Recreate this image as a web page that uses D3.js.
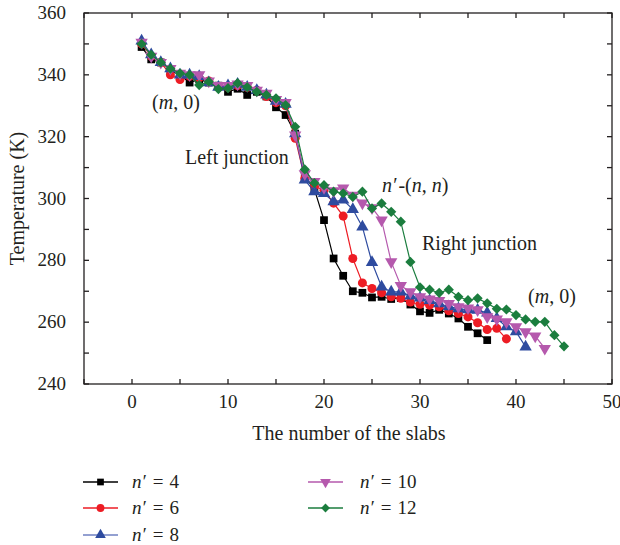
<html>
<script src='https://cdn.jsdelivr.net/npm/d3@7'></script>
<style>
body {margin:0; background:#fff;}
text {font-family: 'Liberation Serif', 'DejaVu Serif', serif; fill:#231f20;}
</style>
<body onload='init()'>
<svg width=620 height=545></svg>
<script>
// temperature per slab, slab index starts at 1
var t4  = [349,345,344,341.5,340,337.5,338.5,337.5,336.5,334.5,335.5,333.5,334.5,333,329.5,327,321,307,303,293,280.6,275,270,269.5,268,268.2,267.5,267.8,265.7,263.5,263,264,262.8,261.2,258.5,256.4,254.2];
var t6  = [350,346,344,340,338.5,339.5,339,338,336,336,336.5,336,335,333,331,330,319.5,306.5,304,302.7,298.5,294.3,280.6,272.7,270.9,269.5,268.2,267.7,266.5,265.8,265.5,265,263.7,262.8,261.7,259.8,257.6,258,254.6];
var t8  = [351,346.5,344,342,340,340,339.5,337.5,336,336.5,337,336,335,333.5,331.5,330.5,321,306,302.2,301.6,299,299.5,296.5,290.8,279.3,271.4,269.8,269.8,268.5,267.8,267,266,265,264.4,264,263.9,263,261.2,258.5,256.9,252];
var t10 = [350.5,346,344,342,340.5,340,340,338,336.5,336.5,337,336.5,335,334,332,331,320.5,308,305.5,303.5,302.5,303.4,301,298.5,297,293,279.5,271.8,269.8,268.2,267.5,267,266,265,264.6,264,261.7,261,260.1,258.5,256.9,255.5,251.5];
var t12 = [350,346.5,344,342,340.5,340,336.7,337.8,335.4,335.7,337.3,336,334.5,333.5,332.4,330.2,323.2,309.4,305,304.3,302.2,301.7,300.5,302.2,296.8,298.4,295.7,292.5,279.5,271.3,270.5,269.5,270.5,268.2,267.1,267.7,266.1,264.3,264.1,262.3,260.9,260.1,260.1,255.8,252.2];

var seriesNames = ['4','6','8','10','12'];
var seriesVals = [t4, t6, t8, t10, t12];
var colors = ['#000000','#ed1c24','#2e4b9f','#b559ad','#1b7d3e'];
var legendLine = ['#000000','#ed1c24','#6f80c2','#b559ad','#1b7d3e'];

var xTicks = [0,10,20,30,40,50];
var yTicks = [240,260,280,300,320,340,360];

function init() {
  var left = 84, right = 612, top = 13, bottom = 384;
  var x = d3.scaleLinear().domain([-5,50]).range([left,right]);
  var y = d3.scaleLinear().domain([240,360]).range([bottom,top]);
  var svg = d3.select('svg');

  var shapes = [
    {type:d3.symbolSquare, size:60, rot:0},
    {type:d3.symbolCircle, size:64, rot:0},
    {type:d3.symbolTriangle, size:66, rot:0},
    {type:d3.symbolTriangle, size:66, rot:180},
    {type:d3.symbolSquare, size:52, rot:45}
  ];

  var line = d3.line().x(function(d,i){return x(i+1);}).y(function(d){return y(d);});

  seriesVals.forEach(function(vals, k) {
    var g = svg.append('g');
    g.append('path').attr('d', line(vals))
      .attr('fill','none').attr('stroke',colors[k]).attr('stroke-width',1.2);
    g.selectAll('path.m').data(vals).enter().append('path')
      .attr('class','m')
      .attr('d', d3.symbol().type(shapes[k].type).size(shapes[k].size))
      .attr('transform', function(d,i){return 'translate('+x(i+1)+','+y(d)+') rotate('+shapes[k].rot+')';})
      .attr('fill', colors[k]);
  });

  // frame with inward ticks
  var minorX = d3.range(-5,51,5), minorY = d3.range(240,361,10);
  var ax = svg.append('g').attr('stroke','#231f20').attr('stroke-width',1.3);
  ax.append('rect').attr('x',left).attr('y',top).attr('width',right-left).attr('height',bottom-top).attr('fill','none');
  minorX.forEach(function(v){
    ax.append('line').attr('x1',x(v)).attr('x2',x(v)).attr('y1',bottom).attr('y2',bottom-5);
    ax.append('line').attr('x1',x(v)).attr('x2',x(v)).attr('y1',top).attr('y2',top+5);
  });
  minorY.forEach(function(v){
    ax.append('line').attr('x1',left).attr('x2',left+5).attr('y1',y(v)).attr('y2',y(v));
    ax.append('line').attr('x1',right).attr('x2',right-5).attr('y1',y(v)).attr('y2',y(v));
  });

  svg.selectAll('text.xt').data(xTicks).enter().append('text')
    .attr('x', function(d){return x(d);}).attr('y', 408)
    .attr('text-anchor','middle').style('font-size','19px').text(function(d){return d;});
  svg.selectAll('text.yt').data(yTicks).enter().append('text')
    .attr('x', 66).attr('y', function(d){return y(d)+6;})
    .attr('text-anchor','end').style('font-size','19px').text(function(d){return d;});

  svg.append('text').attr('x',349).attr('y',440).attr('text-anchor','middle')
    .style('font-size','20px').text('The number of the slabs');
  svg.append('text').attr('transform','translate(24,'+((top+bottom)/2)+') rotate(-90)')
    .attr('text-anchor','middle').style('font-size','20px').text('Temperature (K)');

  // annotations
  function mn(xp, yp) {
    var t = svg.append('text').attr('x',xp).attr('y',yp).style('font-size','20px');
    t.append('tspan').text('(');
    t.append('tspan').style('font-style','italic').text('m');
    t.append('tspan').text(', 0)');
  }
  mn(152, 109);
  mn(528, 303);
  svg.append('text').attr('x',185).attr('y',164).style('font-size','20px').text('Left junction');
  svg.append('text').attr('x',422).attr('y',250).style('font-size','20px').text('Right junction');
  var nn = svg.append('text').attr('x',382).attr('y',192).style('font-size','20px');
  nn.append('tspan').style('font-style','italic').text('n\u2032');
  nn.append('tspan').attr('dx',2).text('-(');
  nn.append('tspan').style('font-style','italic').text('n');
  nn.append('tspan').text(', ');
  nn.append('tspan').style('font-style','italic').text('n');
  nn.append('tspan').text(')');

  // legend
  var lx = [83, 83, 83, 308, 308];
  var ly = [482, 508, 535, 482, 508];
  seriesNames.forEach(function(nm, k) {
    var g = svg.append('g').attr('transform','translate('+lx[k]+','+ly[k]+')');
    g.append('line').attr('x1',0).attr('x2',35).attr('stroke',legendLine[k]).attr('stroke-width',1.3);
    g.append('path').attr('d', d3.symbol().type(shapes[k].type).size(shapes[k].size*0.75))
      .attr('transform','translate(17.5,0) rotate('+shapes[k].rot+')').attr('fill',colors[k]);
    var t = g.append('text').attr('x', k < 3 ? 49 : 52).attr('y',6).style('font-size','19px');
    t.append('tspan').style('font-style','italic').text('n\u2032');
    t.append('tspan').attr('dx',7).text('=');
    t.append('tspan').attr('dx',6).text(nm);
  });
}
</script>
</body>
</html>
